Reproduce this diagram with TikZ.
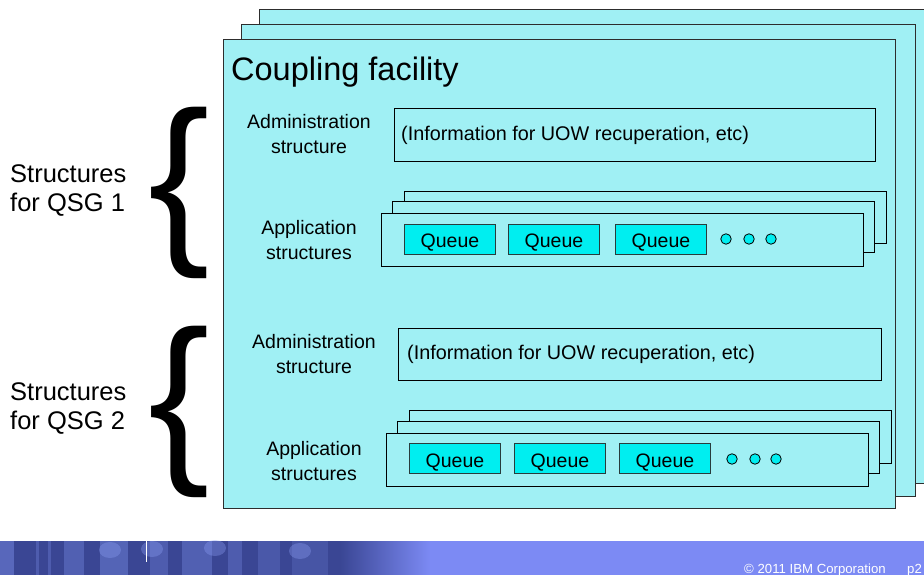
\documentclass[tikz,border=0pt]{standalone}
\usepackage{fontspec}
\setmainfont{Liberation Sans}
\definecolor{cfcyan}{RGB}{160,240,244}
\definecolor{framegray}{RGB}{45,45,45}
\definecolor{queuecyan}{RGB}{0,238,240}
\definecolor{queueedge}{RGB}{40,60,60}
\definecolor{bandblue}{RGB}{124,138,244}
\definecolor{banddark}{RGB}{58,70,148}
\definecolor{bandlight}{RGB}{125,145,235}
\definecolor{bandspot}{RGB}{140,158,245}
\begin{document}
\begin{tikzpicture}[x=1pt,y=-1pt,
  cffill/.style={fill=cfcyan},
  frame/.style={cffill,draw=framegray,line width=1.2pt,anchor=north west,inner sep=0pt},
  structbox/.style={cffill,draw=black,line width=1pt,anchor=north west,inner sep=0pt},
  queuebox/.style={fill=queuecyan,draw=queueedge,line width=1pt,text height=17pt,text depth=0pt,
    minimum width=91pt,minimum height=30pt,inner sep=0pt,font=\fontsize{19.5}{19.5}\selectfont},
  dot/.style={circle,fill=queuecyan,draw=black,line width=0.8pt,minimum size=10.5pt,inner sep=0pt},
  label/.style={align=center,font=\fontsize{19.5}{25}\selectfont,inner sep=0pt},
  info/.style={anchor=west,font=\fontsize{19.8}{22}\selectfont,inner sep=0pt},
  side/.style={align=left,anchor=west,font=\fontsize{25.5}{29}\selectfont,inner sep=0pt},
  brace/.style={font=\fontsize{184}{184}\selectfont,inner sep=0pt},
  foot/.style={anchor=base west,inner sep=0pt,text=white,font=\fontsize{13.2}{14}\selectfont}]
\useasboundingbox (0,0) rectangle (924,575);
\fill[white] (0,0) rectangle (924,575);

% stacked coupling facility frames
\node[frame,minimum width=700pt,minimum height=474pt] (cfback) at (259,9) {};
\node[frame,minimum width=674pt,minimum height=472pt] (cfmid) at (241,24) {};
\node[frame,minimum width=672pt,minimum height=469pt] (cffront) at (223,39) {};
\node[anchor=west,inner sep=0pt,font=\fontsize{32.5}{32}\selectfont] (cftitle) at (231,72) {Coupling facility};

% structures for the first queue-sharing group
\node[label] (adm1lbl) at (309,134.5) {Administration\\structure};
\node[structbox,minimum width=481pt,minimum height=53pt] (adm1) at (394,108) {};
\node[info] (adm1txt) at (401,135) {(Information for UOW recuperation, etc)};
\node[label] (app1lbl) at (309,240.5) {Application\\structures};
\node[structbox,minimum width=482pt,minimum height=52pt] (app1c) at (404,191) {};
\node[structbox,minimum width=482pt,minimum height=51pt] (app1b) at (392,201) {};
\node[structbox,minimum width=482pt,minimum height=53pt] (app1a) at (381,213) {};
\node[queuebox] (q11) at (450,239) {Queue};
\node[queuebox] (q12) at (554,239) {Queue};
\node[queuebox] (q13) at (661,239) {Queue};
\node[dot] (d11) at (726,239) {};
\node[dot] (d12) at (749,239) {};
\node[dot] (d13) at (771,239) {};

% structures for the second queue-sharing group
\node[label] (adm2lbl) at (314,354.5) {Administration\\structure};
\node[structbox,minimum width=483pt,minimum height=52pt] (adm2) at (398,328) {};
\node[info] (adm2txt) at (407,354) {(Information for UOW recuperation, etc)};
\node[label] (app2lbl) at (314,461) {Application\\structures};
\node[structbox,minimum width=482pt,minimum height=53pt] (app2c) at (409,410) {};
\node[structbox,minimum width=482pt,minimum height=52pt] (app2b) at (397,421) {};
\node[structbox,minimum width=482pt,minimum height=53pt] (app2a) at (386,433) {};
\node[queuebox] (q21) at (455,458.5) {Queue};
\node[queuebox] (q22) at (560,458.5) {Queue};
\node[queuebox] (q23) at (665,458.5) {Queue};
\node[dot] (d21) at (732,459) {};
\node[dot] (d22) at (755,459) {};
\node[dot] (d23) at (776,459) {};

% group labels with braces
\node[side] (qsg1) at (10,191) {Structures\\for QSG 1};
\node[brace] (br1) at (179,193) {\{};
\node[side] (qsg2) at (10,409) {Structures\\for QSG 2};
\node[brace] (br2) at (179,412) {\{};

% footer band
\fill[bandblue] (0,541) rectangle (924,575);
\fill[banddark] (0,541) rectangle (340,575);
\shade[left color=banddark,right color=bandblue] (340,541) rectangle (430,575);
\foreach \xx/\ww/\op in {0/14/0.45,36/3/0.3,48/3/0.3,64/20/0.35,100/28/0.4,150/18/0.3,182/30/0.35,
    228/14/0.3,258/22/0.25,292/36/0.2}
  \fill[bandlight,opacity=\op] (\xx,541) rectangle (\xx+\ww,575);
\foreach \cx/\cy in {110/550,152/549,215/548,300/551}
  \fill[bandspot,opacity=0.35] (\cx,\cy) ellipse (11pt and 8pt);
\draw[white,line width=0.8pt] (146,541) -- (146,562);
\node[foot] (copy) at (744,573) {© 2011 IBM Corporation};
\node[foot] (page) at (907,573) {p2};
\end{tikzpicture}
\end{document}
